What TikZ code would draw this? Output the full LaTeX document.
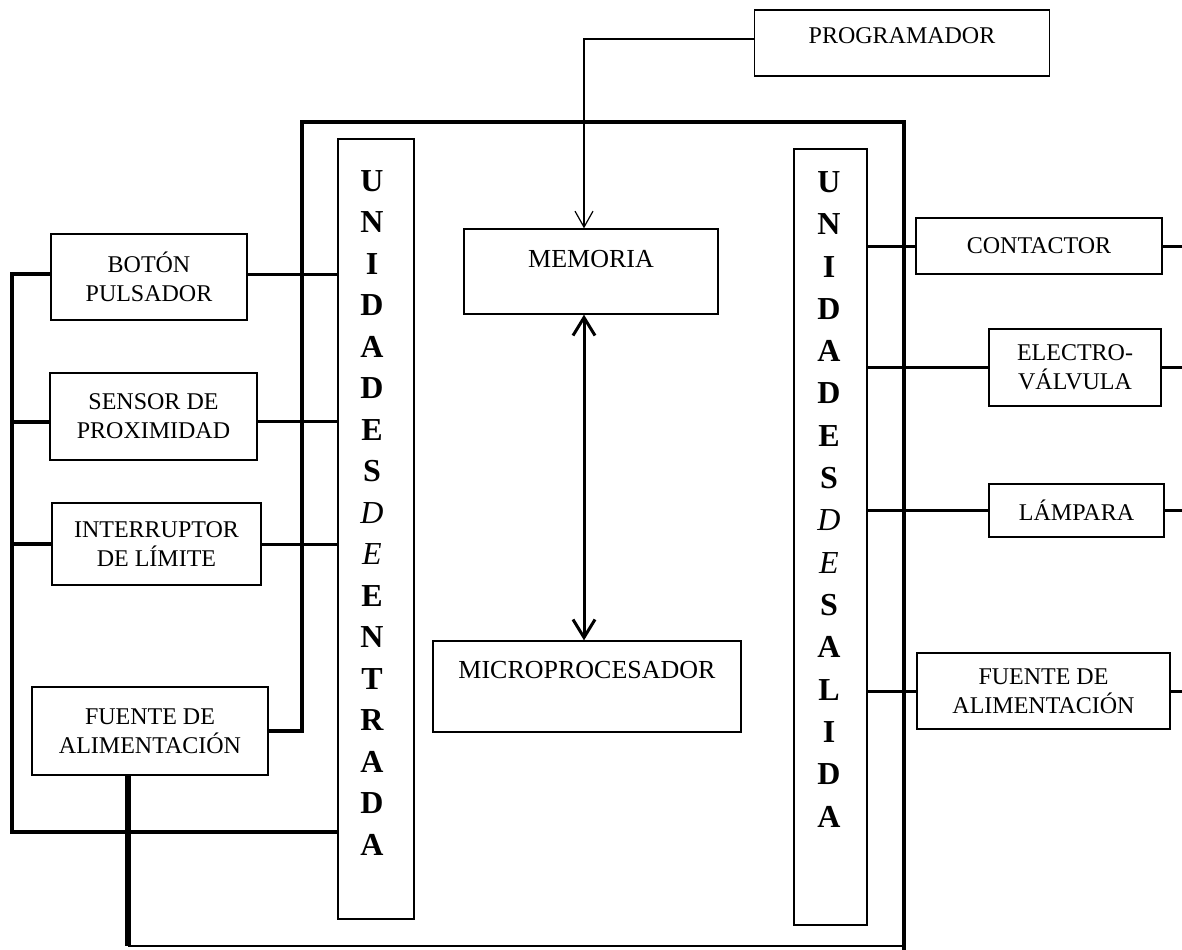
\documentclass[tikz,border=0pt]{standalone}
\usepackage{fontspec}
\setmainfont{Liberation Serif}
\usetikzlibrary{arrows.meta, positioning}

\newcommand{\ital}[1]{{\mdseries\itshape #1}}

\begin{document}
\begin{tikzpicture}[x=0.5pt, y=-0.5pt,
        box/.style={draw, line width=0.65pt, align=center, inner sep=0pt,
            font=\fontsize{12}{14.5}\selectfont},
        bigbox/.style={box, font=\fontsize{13}{15}\selectfont},
        column/.style={draw, line width=0.65pt, inner sep=0pt},
        letter/.style={inner sep=0pt, font=\fontsize{16}{18}\selectfont\bfseries},
        frame/.style={line width=2.2pt},
        wire/.style={line width=1.5pt},
        bus/.style={line width=2pt},
        dblarrow/.style={{Straight Barb[length=9pt,width=11pt]}-{Straight Barb[length=9pt,width=11pt]}, line width=1.5pt},
        >={Straight Barb[length=8pt,width=9pt]}
    ]
        \useasboundingbox (0,0) rectangle (1182,949);

        % central unit
        \node[box, minimum width=147.5pt, minimum height=33pt, text depth=7pt] (prog) at (902,43) {PROGRAMADOR};
        \node[bigbox, minimum width=127pt, minimum height=42.5pt, text depth=13pt] (mem) at (591,271.5) {MEMORIA};
        \node[bigbox, minimum width=154pt, minimum height=45.5pt, text depth=16.5pt] (micro) at (587,686.5) {MICROPROCESADOR};

        % inputs
        \node[box, minimum width=98pt, minimum height=43pt] (boton) at (149,277) {BOTÓN\\PULSADOR};
        \node[box, minimum width=103.5pt, minimum height=43.5pt] (sensor) at (153.5,416.5) {SENSOR DE\\PROXIMIDAD};
        \node[box, minimum width=104.5pt, minimum height=41pt] (interr) at (156.5,544) {INTERRUPTOR\\DE LÍMITE};
        \node[box, minimum width=118pt, minimum height=44pt] (fuentein) at (150,731) {FUENTE DE\\ALIMENTACIÓN};

        % outputs
        \node[box, minimum width=123pt, minimum height=28pt] (contactor) at (1039,246) {CONTACTOR};
        \node[box, minimum width=86pt, minimum height=38.5pt] (valvula) at (1075,367.5) {ELECTRO-\\VÁLVULA};
        \node[box, minimum width=87.5pt, minimum height=26.5pt] (lampara) at (1076.5,510.5) {LÁMPARA};
        \node[box, minimum width=126.5pt, minimum height=38pt] (fuenteout) at (1043.5,691) {FUENTE DE\\ALIMENTACIÓN};

        % I/O columns
        \node[column, minimum width=38pt, minimum height=390pt] (entrada) at (376,529) {};
        \node[column, minimum width=36.5pt, minimum height=388pt] (salida) at (830.5,537) {};
        \foreach \ch [count=\k from 0] in {U,N,I,D,A,D,E,S,\ital D,\ital E,E,N,T,R,A,D,A}
            \node[letter] (in\k) at ({372},{181+41.5*\k}) {\ch};
        \foreach \ch [count=\k from 0] in {U,N,I,D,A,D,E,S,\ital D,\ital E,S,A,L,I,D,A}
            \node[letter] (out\k) at ({829},{182+42.3*\k}) {\ch};

        \coordinate (bus) at (12,275);
        \coordinate (busend) at (12,832);
        \coordinate (ftl) at (302,122);
        \coordinate (ftr) at (904,122);
        \coordinate (fbr) at (904,952);
        \coordinate (gnd) at (128,946);
        \coordinate (ax) at (584,0);
        \coordinate (edge) at (1190,0);

        % frame and supply
        \draw[frame] (fuentein.east) -| (ftl) -- (ftr) -- (fbr);
        \draw[line width=2.6pt] ([xshift=-11pt]fuentein.south) -- (gnd);
        \draw[line width=1pt] (gnd) -- (gnd -| fbr);

        % input wiring
        \draw[bus] ([yshift=1.5pt]boton.west) -| (busend) -- (busend -| entrada.west);
        \draw[bus] ([yshift=-2.5pt]sensor.west) -- ([yshift=-2.5pt]sensor.west -| bus);
        \draw[bus] (interr.west) -- (interr.west -| bus);
        \draw[wire] ([yshift=1.5pt]boton.east) -- ([yshift=1.5pt]boton.east -| entrada.west);
        \draw[wire] ([yshift=-2.5pt]sensor.east) -- ([yshift=-2.5pt]sensor.east -| entrada.west);
        \draw[wire] (interr.east) -- (interr.east -| entrada.west);

        % output wiring
        \foreach \n in {contactor,valvula,lampara,fuenteout} {
            \draw[wire] (\n.west -| salida.east) -- (\n.west);
            \draw[wire] (\n.east) -- (\n.east -| edge);
        }

        \draw[dblarrow] (mem.south -| ax) -- (micro.north -| ax);
        \draw[->, line width=0.6pt] ([yshift=2pt]prog.west) -| (mem.north -| ax);
    \end{tikzpicture}
\end{document}
